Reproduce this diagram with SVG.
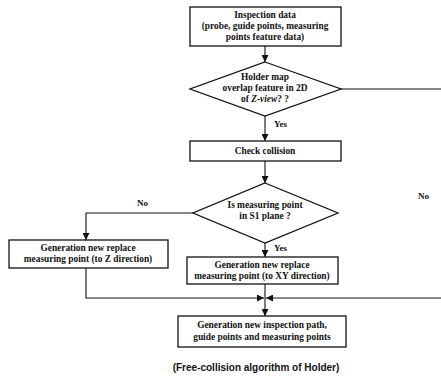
<svg xmlns="http://www.w3.org/2000/svg" width="441" height="378" viewBox="0 0 441 378">
<style>
.n{fill:#fff;stroke:#111;stroke-width:1.3}
.t{font-family:"Liberation Serif",serif;font-weight:bold;font-size:9.4px;fill:#111;text-anchor:middle}
.l{font-family:"Liberation Serif",serif;font-weight:bold;font-size:9px;fill:#111}
.c{fill:none;stroke:#111;stroke-width:1.1}
.cap{font-family:"Liberation Sans",sans-serif;font-weight:bold;font-size:10px;fill:#111;text-anchor:middle}
</style>
<defs>
<marker id="a" viewBox="0 0 10 10" refX="10" refY="5" markerWidth="7" markerHeight="7" orient="auto" markerUnits="userSpaceOnUse">
<path d="M0,0 L10,5 L0,10 z" fill="#111"/>
</marker>
</defs>
<rect width="441" height="378" fill="#fff"/>
<g id="connectors">
<path class="c" d="M265,46 V62" marker-end="url(#a)"/>
<path class="c" d="M265,116 V141" marker-end="url(#a)"/>
<path class="c" d="M265,161 V183" marker-end="url(#a)"/>
<path class="c" d="M265,243 V257" marker-end="url(#a)"/>
<path class="c" d="M193,213 H86 V240" marker-end="url(#a)"/>
<path class="c" d="M86,268 V298 H264" marker-end="url(#a)"/>
<path class="c" d="M341,89 H444 V298 H266" marker-end="url(#a)"/>
<path class="c" d="M265,284 V316" marker-end="url(#a)"/>
<text class="l" x="274" y="127">Yes</text>
<text class="l" x="274" y="251">Yes</text>
<text class="l" x="137" y="206">No</text>
<text class="l" x="418" y="199">No</text>
</g>
<g id="n1">
<rect class="n" x="190" y="7" width="151" height="39"/>
<text class="t" x="265" y="18">Inspection data</text>
<text class="t" x="265" y="29">(probe, guide points, measuring</text>
<text class="t" x="265" y="40">points feature data)</text>
</g>
<g id="n2">
<polygon class="n" points="265,62 341,89 265,116 190,89"/>
<text class="t" x="265" y="80">Holder map</text>
<text class="t" x="265" y="91">overlap feature in 2D</text>
<text class="t" x="265" y="102">of <tspan font-style="italic">Z-view</tspan>? ?</text>
</g>
<g id="n3">
<rect class="n" x="190" y="141" width="151" height="20"/>
<text class="t" x="265" y="154">Check collision</text>
</g>
<g id="n4">
<polygon class="n" points="265,183 338,213 265,243 193,213"/>
<text class="t" x="265" y="208">Is measuring point</text>
<text class="t" x="265" y="219">in S1 plane ?</text>
</g>
<g id="n5">
<rect class="n" x="9" y="240" width="159" height="28"/>
<text class="t" x="88" y="251">Generation new replace</text>
<text class="t" x="88" y="262">measuring point (to Z direction)</text>
</g>
<g id="n6">
<rect class="n" x="187" y="257" width="151" height="27"/>
<text class="t" x="262" y="268">Generation new replace</text>
<text class="t" x="262" y="279">measuring point (to XY direction)</text>
</g>
<g id="n7">
<rect class="n" x="178" y="316" width="168" height="31"/>
<text class="t" x="262" y="328">Generation new inspection path,</text>
<text class="t" x="262" y="340">guide points and measuring points</text>
</g>
<text class="cap" x="256" y="371">(Free-collision algorithm of Holder)</text>
</svg>
